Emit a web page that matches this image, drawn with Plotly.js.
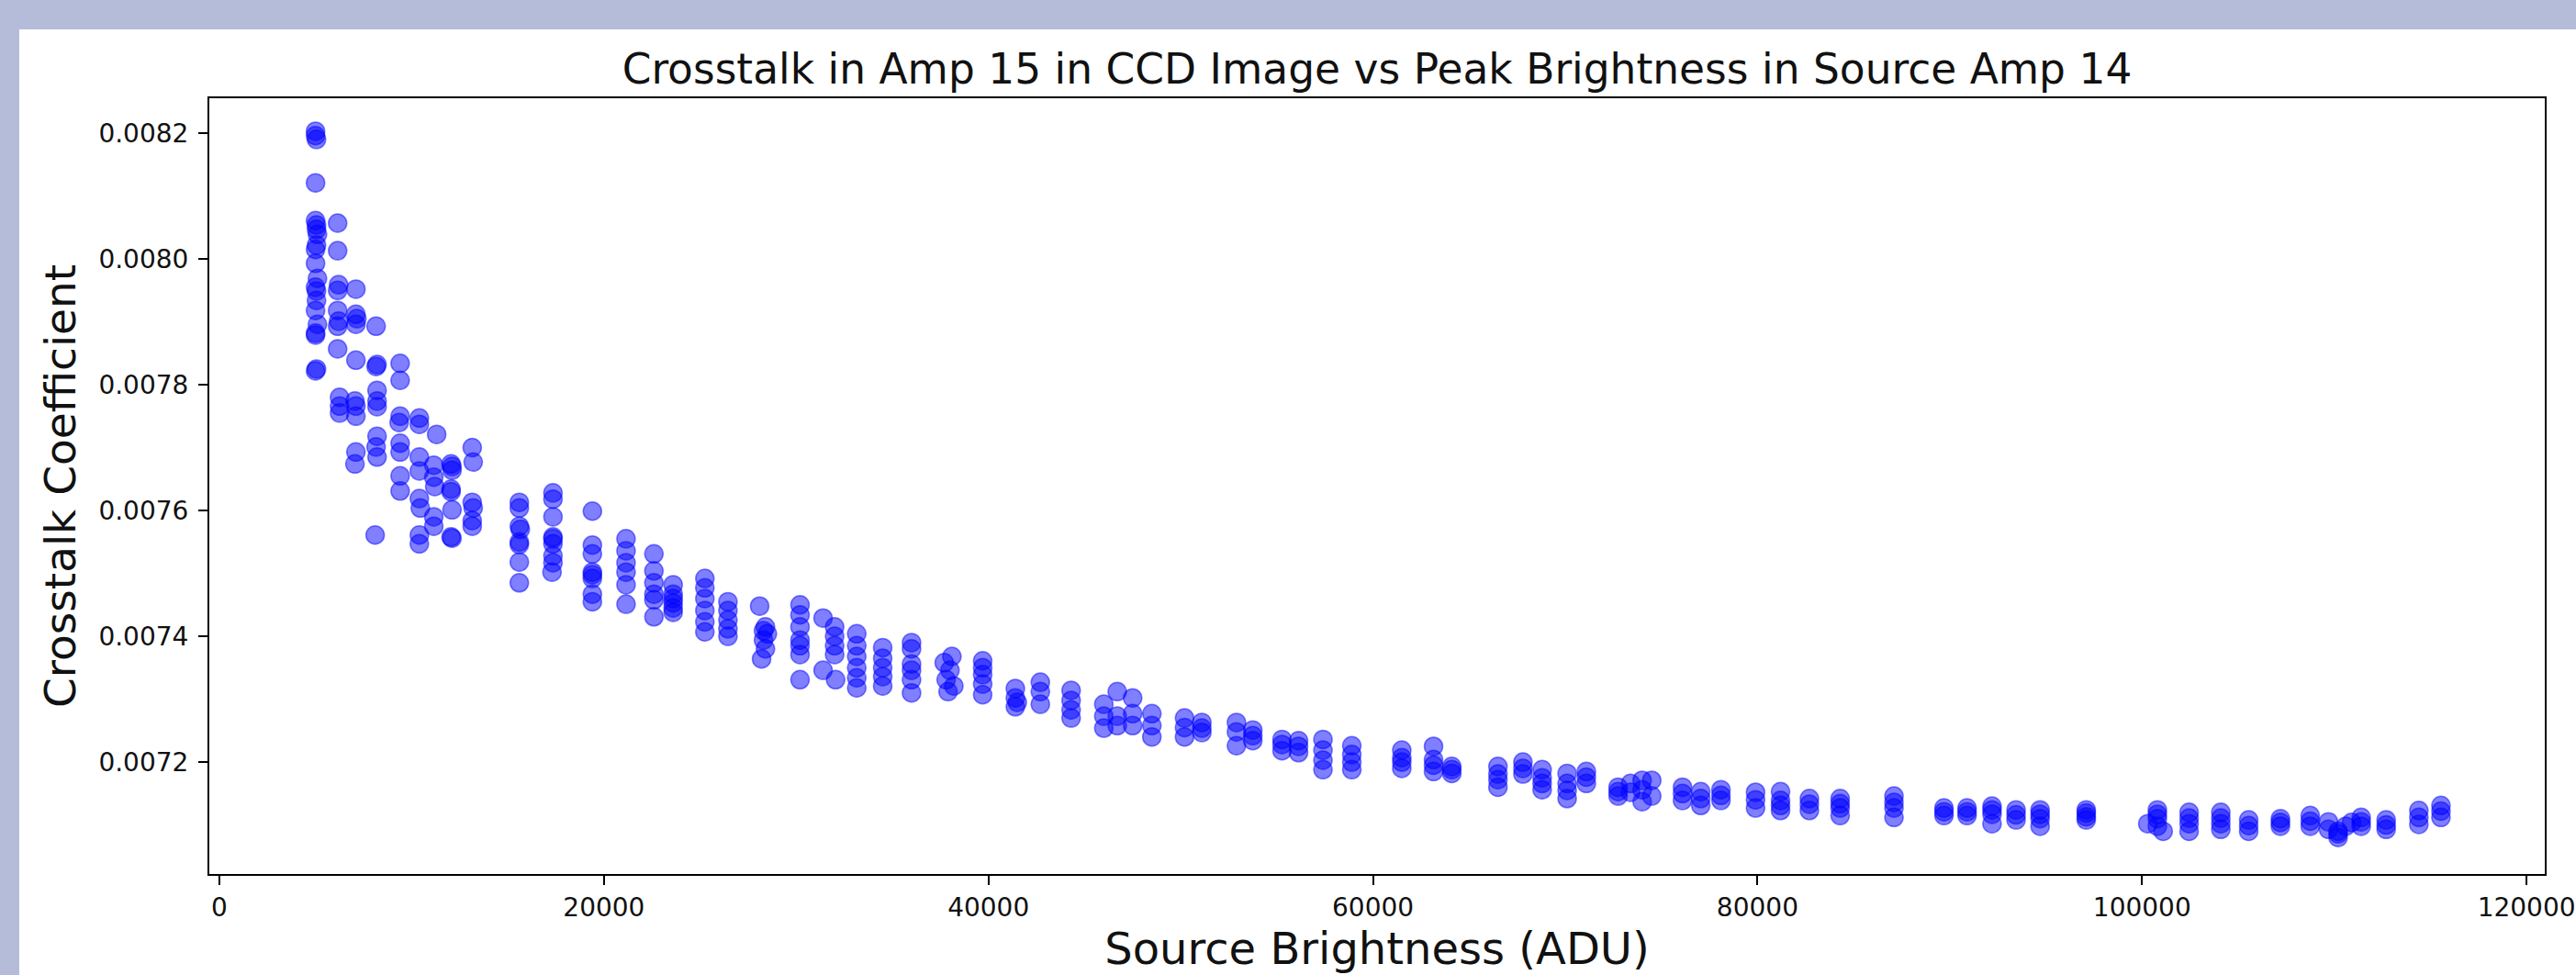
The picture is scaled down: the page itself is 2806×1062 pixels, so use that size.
<!DOCTYPE html>
<html>
<head>
<meta charset="utf-8">
<script src="https://cdn.plot.ly/plotly-3.0.1.min.js"></script>
<style>
  html, body { margin: 0; padding: 0; background: #b4bcd9; }
  #chart { width: 2806px; height: 1062px; }
</style>
</head>
<body>
<div id="chart"></div>
<script>
// ---- Data ----
// Low brightness sources (x < 14000 ADU)
const brightnessLow = [
  5000, 5000, 5050, 5000, 5000, 5050, 5050, 5100, 5050, 5000, 5000, 5100, 5000, 5050, 5050, 5000, 5100, 5000, 5000, 5050, 5000,
  6150, 6150, 6200, 6150, 6150, 6200, 6150, 6150, 6250, 6250, 6250,
  7100, 7100, 7150, 7100, 7100, 7050, 7100, 7100, 7100, 7050,
  8150, 8200, 8150, 8200, 8200, 8200, 8200, 8150, 8200, 8100,
  9400, 9400, 9400, 9350, 9400, 9400, 9400, 9400,
  10400, 10400, 10400, 10400, 10400, 10450, 10400, 10400, 11300,
  11150, 11150, 11200, 11150, 11150,
  12050, 12100, 12100, 12050, 12050, 12100, 12050, 12100,
  13150, 13200, 13150, 13200, 13150, 13150
];
const coeffLow = [
  0.008203, 0.008196, 0.008190, 0.008121, 0.008061, 0.008054, 0.008047, 0.008039, 0.008022, 0.008015, 0.007993, 0.007969, 0.007955, 0.007949, 0.007934, 0.007918, 0.007896, 0.007882, 0.007879, 0.007825, 0.007822,
  0.008057, 0.008013, 0.007959, 0.007950, 0.007918, 0.007901, 0.007893, 0.007857, 0.007780, 0.007766, 0.007755,
  0.007952, 0.007912, 0.007905, 0.007896, 0.007839, 0.007774, 0.007766, 0.007750, 0.007693, 0.007674,
  0.007893, 0.007832, 0.007829, 0.007791, 0.007774, 0.007765, 0.007718, 0.007701, 0.007685, 0.007561,
  0.007834, 0.007807, 0.007750, 0.007740, 0.007707, 0.007693, 0.007655, 0.007631,
  0.007747, 0.007737, 0.007685, 0.007663, 0.007619, 0.007604, 0.007561, 0.007547, 0.007721,
  0.007672, 0.007653, 0.007638, 0.007590, 0.007575,
  0.007674, 0.007664, 0.007670, 0.007634, 0.007630, 0.007601, 0.007558, 0.007556,
  0.007700, 0.007677, 0.007613, 0.007604, 0.007584, 0.007575
];

// Mid brightness sources (14000 - 45000 ADU)
const brightnessMid = [
  15600, 15600, 15600, 15650, 15600, 15600, 15600, 15600,
  17350, 17350, 17350, 17350, 17350, 17350, 17350, 17350, 17300,
  19400, 19400, 19400, 19400, 19400, 19400, 19400, 19400,
  21150, 21150, 21150, 21150, 21150, 21150,
  22600, 22600, 22600, 22600, 22600, 22600,
  23600, 23600, 23600, 23600, 23600, 23600,
  25250, 25250, 25250, 25250, 25250, 25250,
  26450, 26450, 26450, 26450, 26450,
  28100, 28400, 28300, 28500, 28300, 28400, 28200,
  30200, 30200, 30200, 30200, 30200, 30200, 30200,
  31400, 32000, 32000, 32000, 32000, 31400, 32050,
  33150, 33150, 33150, 33150, 33150, 33150,
  34500, 34500, 34500, 34500, 34500,
  36000, 36000, 36000, 36000, 36000, 36000,
  38100, 37700, 38000, 37800, 38200, 37900,
  39700, 39700, 39700, 39700, 39700,
  41400, 41400, 41400, 41500, 42700, 42700, 42700,
  44300, 44300, 44300, 44300
];
const coeffMid = [
  0.007613, 0.007604, 0.007575, 0.007570, 0.007550, 0.007546, 0.007518, 0.007485,
  0.007628, 0.007618, 0.007590, 0.007558, 0.007555, 0.007547, 0.007528, 0.007517, 0.007502,
  0.007599, 0.007545, 0.007531, 0.007502, 0.007498, 0.007492, 0.007467, 0.007455,
  0.007555, 0.007536, 0.007517, 0.007502, 0.007482, 0.007451,
  0.007531, 0.007504, 0.007485, 0.007467, 0.007458, 0.007431,
  0.007482, 0.007467, 0.007460, 0.007453, 0.007445, 0.007438,
  0.007492, 0.007477, 0.007460, 0.007441, 0.007423, 0.007407,
  0.007455, 0.007441, 0.007426, 0.007412, 0.007400,
  0.007448, 0.007415, 0.007409, 0.007404, 0.007394, 0.007380, 0.007364,
  0.007450, 0.007434, 0.007415, 0.007394, 0.007385, 0.007371, 0.007331,
  0.007429, 0.007415, 0.007400, 0.007385, 0.007371, 0.007346, 0.007331,
  0.007404, 0.007385, 0.007368, 0.007350, 0.007334, 0.007318,
  0.007382, 0.007365, 0.007350, 0.007336, 0.007321,
  0.007390, 0.007380, 0.007356, 0.007346, 0.007331, 0.007310,
  0.007368, 0.007358, 0.007346, 0.007331, 0.007321, 0.007312,
  0.007361, 0.007350, 0.007339, 0.007324, 0.007307,
  0.007317, 0.007302, 0.007288, 0.007295, 0.007327, 0.007312, 0.007292,
  0.007314, 0.007298, 0.007283, 0.007270
];

// Upper-mid brightness sources (45000 - 80000 ADU)
const brightnessHigh = [
  46000, 46000, 46000, 46700, 46700, 46700, 47500, 47500, 47500, 48500, 48500, 48500,
  50200, 50200, 50200, 51100, 51100, 51100,
  52900, 52900, 52900, 53750, 53750, 53750,
  55270, 55270, 55270, 56130, 56130, 56130,
  57400, 57400, 57400, 57400, 58900, 58900, 58900, 58900,
  61500, 61500, 61500, 61500, 63150, 63150, 63150, 63150,
  64100, 64100, 64100,
  66500, 66500, 66500, 66500, 67800, 67800, 67800,
  68800, 68800, 68800, 68800, 70100, 70100, 70100, 70100,
  71100, 71100, 71100,
  72750, 72750, 72750, 73400, 73400, 74000, 74000, 74000, 74500, 74500,
  76100, 76100, 76100, 77050, 77050, 77050, 78100, 78100, 78100, 79900, 79900, 79900
];
const coeffHigh = [
  0.007292, 0.007273, 0.007254, 0.007312, 0.007273, 0.007258, 0.007302, 0.007277, 0.007258, 0.007277, 0.007258, 0.007240,
  0.007270, 0.007255, 0.007240, 0.007263, 0.007254, 0.007247,
  0.007263, 0.007248, 0.007226, 0.007251, 0.007242, 0.007234,
  0.007236, 0.007228, 0.007218, 0.007234, 0.007225, 0.007215,
  0.007236, 0.007219, 0.007203, 0.007188, 0.007226, 0.007212, 0.007200, 0.007188,
  0.007219, 0.007207, 0.007200, 0.007190, 0.007225, 0.007204, 0.007195, 0.007185,
  0.007193, 0.007188, 0.007182,
  0.007193, 0.007181, 0.007172, 0.007160, 0.007200, 0.007190, 0.007181,
  0.007188, 0.007175, 0.007166, 0.007156, 0.007182, 0.007166, 0.007155, 0.007142,
  0.007185, 0.007176, 0.007166,
  0.007160, 0.007153, 0.007146, 0.007166, 0.007152, 0.007171, 0.007156, 0.007137, 0.007171, 0.007146,
  0.007160, 0.007150, 0.007139, 0.007153, 0.007142, 0.007131, 0.007156, 0.007147, 0.007139, 0.007152, 0.007140, 0.007127
];

// Brightest sources (> 80000 ADU)
const brightnessTop = [
  81200, 81200, 81200, 81200, 82700, 82700, 82700,
  84300, 84300, 84300, 84300, 87100, 87100, 87100, 87100,
  89700, 89700, 89700, 90900, 90900, 90900,
  92200, 92200, 92200, 92200, 93450, 93450, 93450,
  94700, 94700, 94700, 94700, 97100, 97100, 97100, 97100,
  100300, 100800, 100800, 100800, 100800, 101100,
  102450, 102450, 102450, 102450, 104100, 104100, 104100, 104100,
  105550, 105550, 105550, 107200, 107200, 107200, 108750, 108750, 108750,
  109700, 109700, 110200, 110200, 110200, 110600, 110900,
  111400, 111400, 111400, 112700, 112700, 112700,
  114400, 114400, 114400, 115550, 115550, 115550
];
const coeffTop = [
  0.007153, 0.007139, 0.007131, 0.007123, 0.007142, 0.007133, 0.007123,
  0.007142, 0.007134, 0.007127, 0.007115, 0.007146, 0.007136, 0.007127, 0.007112,
  0.007127, 0.007121, 0.007115, 0.007127, 0.007121, 0.007115,
  0.007130, 0.007124, 0.007117, 0.007102, 0.007124, 0.007116, 0.007108,
  0.007124, 0.007117, 0.007110, 0.007098, 0.007124, 0.007119, 0.007113, 0.007108,
  0.007102, 0.007124, 0.007117, 0.007110, 0.007098, 0.007090,
  0.007120, 0.007111, 0.007102, 0.007090, 0.007120, 0.007111, 0.007102, 0.007093,
  0.007108, 0.007099, 0.007090, 0.007110, 0.007104, 0.007098, 0.007115, 0.007106, 0.007098,
  0.007105, 0.007093, 0.007090, 0.007086, 0.007080, 0.007098, 0.007104,
  0.007112, 0.007105, 0.007098, 0.007108, 0.007100, 0.007093,
  0.007123, 0.007112, 0.007101, 0.007131, 0.007122, 0.007112
];

const xTicks = [0, 20000, 40000, 60000, 80000, 100000, 120000];
const yTicks = [0.0072, 0.0074, 0.0076, 0.0078, 0.0080, 0.0082];

// ---- Build chart ----
const xs = brightnessLow.concat(brightnessMid, brightnessHigh, brightnessTop);
const ys = coeffLow.concat(coeffMid, coeffHigh, coeffTop);

const FONT = 'DejaVu Sans, Liberation Sans, sans-serif';

const trace = {
  type: 'scatter',
  mode: 'markers',
  x: xs,
  y: ys,
  marker: {
    size: 20,
    color: 'rgba(0,0,255,0.5)',
    line: { color: 'rgba(0,0,255,0.5)', width: 1.5 }
  },
  hoverinfo: 'x+y',
  showlegend: false
};

const W = 2806, H = 1062;
const L = 228, R = 34, T = 107, B = 110;
const pw = W - L - R, ph = H - T - B;

const layout = {
  width: W,
  height: H,
  paper_bgcolor: '#b4bcd9',
  plot_bgcolor: '#ffffff',
  margin: { l: L, r: R, t: T, b: B, pad: 0 },
  font: { family: FONT, color: '#000000' },
  title: {
    text: 'Crosstalk in Amp 15 in CCD Image vs Peak Brightness in Source Amp 14',
    font: { family: FONT, size: 45.5, color: '#111111' },
    x: 0.5, xref: 'paper', xanchor: 'center',
    y: 1 - 75 / H, yref: 'container', yanchor: 'middle'
  },
  shapes: [{
    type: 'rect', layer: 'below', xref: 'paper', yref: 'paper',
    x0: (21 - L) / pw, x1: (W + 10 - L) / pw,
    y0: -(B + 10) / ph, y1: (H - B - 32) / ph,
    fillcolor: '#ffffff', line: { width: 0 }
  }],
  xaxis: {
    range: [-525, 120950],
    tickmode: 'array',
    tickvals: xTicks,
    ticktext: xTicks.map(v => String(v)),
    ticks: 'outside', ticklen: 10, tickwidth: 2, tickcolor: '#000000',
    showline: true, linewidth: 2, linecolor: '#000000', mirror: true,
    showgrid: false, zeroline: false,
    tickfont: { family: FONT, size: 28, color: '#111111' },
    title: { text: 'Source Brightness (ADU)', font: { family: FONT, size: 48, color: '#111111' }, standoff: 10 }
  },
  yaxis: {
    range: [0.007022, 0.0082555],
    tickmode: 'array',
    tickvals: yTicks,
    ticktext: yTicks.map(v => v.toFixed(4)),
    ticks: 'outside', ticklen: 10, tickwidth: 2, tickcolor: '#000000',
    showline: true, linewidth: 2, linecolor: '#000000', mirror: true,
    showgrid: false, zeroline: false,
    tickfont: { family: FONT, size: 28, color: '#111111' },
    ticklabelstandoff: 5,
    title: { text: 'Crosstalk Coefficient', font: { family: FONT, size: 47, color: '#111111' }, standoff: 10 }
  }
};

Plotly.newPlot('chart', [trace], layout, { displayModeBar: false, staticPlot: true });
</script>
</body>
</html>
